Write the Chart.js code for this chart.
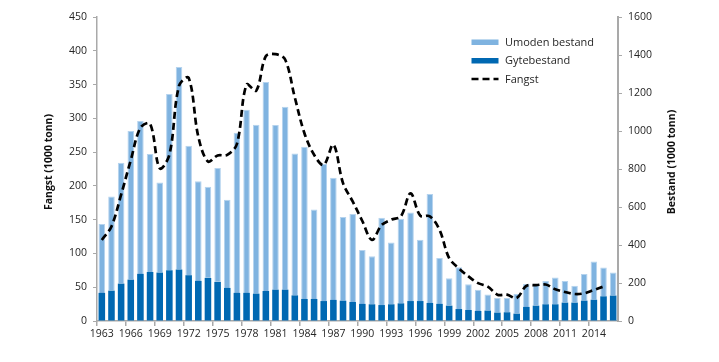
<!DOCTYPE html>
<html>
<head>
<meta charset="utf-8">
<script src="https://cdn.jsdelivr.net/npm/chart.js@4/dist/chart.umd.min.js"></script>
<style>
  html, body { margin: 0; padding: 0; background: #ffffff; }
  #wrap { position: relative; width: 719px; height: 362px; }
</style>
</head>
<body>
<div id="wrap"><canvas id="c" width="719" height="362"></canvas></div>
<script>
const years = [];
for (let y = 1963; y <= 2016; y++) years.push(String(y));

const gytebestand = [148,160,197,218,248,258,255,267,271,241,211,227,206,174,148,148,144,158,165,165,135,116,116,105,111,107,100,90,88,84,88,93,105,105,95,90,81,63,58,53,55,44,46,39,74,81,88,88,97,97,107,112,130,134];

const umodenBestand = [363,495,636,782,805,621,474,928,1066,682,525,479,599,464,843,964,889,1100,867,962,747,801,471,721,643,440,463,284,253,459,325,445,466,322,573,241,144,220,135,112,84,77,75,105,121,114,123,141,114,89,141,201,151,121];

const fangst = [120,140,187,238,286,292,226,246,348,360,273,236,245,246,262,350,341,392,395,387,331,278,246,231,261,204,177,148,120,142,150,155,189,156,155,135,93,78,66,56,51,39,39,34,52,53,54,47,43,40,41,46,51,null];

const leftTicks = [0,50,100,150,200,250,300,350,400,450];
const rightTicks = [0,200,400,600,800,1000,1200,1400,1600];

const LIGHT = '#7fb3e0';
const DARK = '#0068b2';
const AXIS = '#a9a9a9';
const TXT = '#262626';
const FONT = "'Open Sans', 'Noto Sans', sans-serif";

const overlay = {
  id: 'overlay',
  afterDraw(chart) {
    const ctx = chart.ctx;
    ctx.save();
    ctx.fillStyle = '#111';
    ctx.font = "bold 10.5px " + FONT;
    ctx.textAlign = 'center';
    ctx.textBaseline = 'middle';
    ctx.save();
    ctx.translate(49, 162);
    ctx.rotate(-Math.PI / 2);
    ctx.fillText('Fangst (1000 tonn)', 0, 0);
    ctx.restore();
    ctx.save();
    ctx.translate(672, 162);
    ctx.rotate(-Math.PI / 2);
    ctx.fillText('Bestand (1000 tonn)', 0, 0);
    ctx.restore();

    const lx0 = 471.5, lx1 = 498.5, tx = 505;
    ctx.fillStyle = LIGHT;
    ctx.fillRect(lx0, 39.5, lx1 - lx0, 5.5);
    ctx.fillStyle = DARK;
    ctx.fillRect(lx0, 58, lx1 - lx0, 5.5);
    ctx.strokeStyle = '#000';
    ctx.lineWidth = 2.7;
    ctx.setLineDash([7, 4]);
    ctx.beginPath();
    ctx.moveTo(lx0, 79);
    ctx.lineTo(lx1, 79);
    ctx.stroke();
    ctx.setLineDash([]);
    ctx.fillStyle = TXT;
    ctx.font = "11px " + FONT;
    ctx.textAlign = 'left';
    ctx.fillText('Umoden bestand', tx, 42.5);
    ctx.fillText('Gytebestand', tx, 61);
    ctx.fillText('Fangst', tx, 79.5);
    ctx.restore();
  }
};

new Chart(document.getElementById('c'), {
  data: {
    labels: years,
    datasets: [
      {
        type: 'line',
        label: 'Fangst',
        data: fangst,
        yAxisID: 'yL',
        borderColor: '#000',
        borderWidth: 2.7,
        borderDash: [7, 4],
        pointRadius: 0,
        tension: 0.35,
        fill: false,
        order: 0
      },
      {
        type: 'bar',
        label: 'Gytebestand',
        data: gytebestand,
        yAxisID: 'yR',
        backgroundColor: DARK,
        borderWidth: 0,
        stack: 's',
        barPercentage: 0.68,
        categoryPercentage: 1,
        order: 1
      },
      {
        type: 'bar',
        label: 'Umoden bestand',
        data: umodenBestand,
        yAxisID: 'yR',
        backgroundColor: LIGHT,
        borderColor: '#b5d3ee',
        borderWidth: {top: 1, left: 1, right: 1, bottom: 0},
        stack: 's',
        barPercentage: 0.68,
        categoryPercentage: 1,
        order: 1
      }
    ]
  },
  options: {
    responsive: false,
    animation: false,
    devicePixelRatio: 1,
    layout: { padding: { top: 17, right: 0, left: 0, bottom: 0 } },
    plugins: { legend: { display: false }, tooltip: { enabled: false } },
    scales: {
      x: {
        type: 'category',
        offset: true,
        stacked: true,
        afterFit(s) { s.height = 41; },
        border: { display: true, color: AXIS, width: 1.5 },
        grid: {
          offset: true,
          drawOnChartArea: false,
          drawTicks: true,
          tickLength: 5,
          lineWidth: 1.5,
          color: (c) => (c.index % 3 === 0 ? AXIS : 'rgba(0,0,0,0)')
        },
        ticks: {
          autoSkip: false,
          maxRotation: 0,
          minRotation: 0,
          padding: 2,
          color: TXT,
          font: { family: FONT, size: 10.5 },
          callback: function (v, i) { return i % 3 === 0 ? years[i] : ''; }
        }
      },
      yL: {
        type: 'linear',
        position: 'left',
        min: 0,
        max: 450,
        afterFit(s) { s.width = 97; },
        afterBuildTicks(s) { s.ticks = leftTicks.map(v => ({ value: v })); },
        border: { display: true, color: AXIS, width: 1.5 },
        grid: { drawOnChartArea: false, drawTicks: true, tickLength: 4, color: AXIS, lineWidth: 1 },
        ticks: { color: TXT, padding: 6, font: { family: FONT, size: 10.5 }, callback: (v) => String(v) }
      },
      yR: {
        type: 'linear',
        position: 'right',
        min: 0,
        max: 1600,
        stacked: true,
        afterFit(s) { s.width = 101; },
        afterBuildTicks(s) { s.ticks = rightTicks.map(v => ({ value: v })); },
        border: { display: true, color: AXIS, width: 2 },
        grid: { drawOnChartArea: false, drawTicks: true, tickLength: 4, color: AXIS, lineWidth: 1 },
        ticks: { color: TXT, padding: 6, font: { family: FONT, size: 10.5 }, callback: (v) => String(v) }
      }
    }
  },
  plugins: [overlay]
});
</script>
</body>
</html>
